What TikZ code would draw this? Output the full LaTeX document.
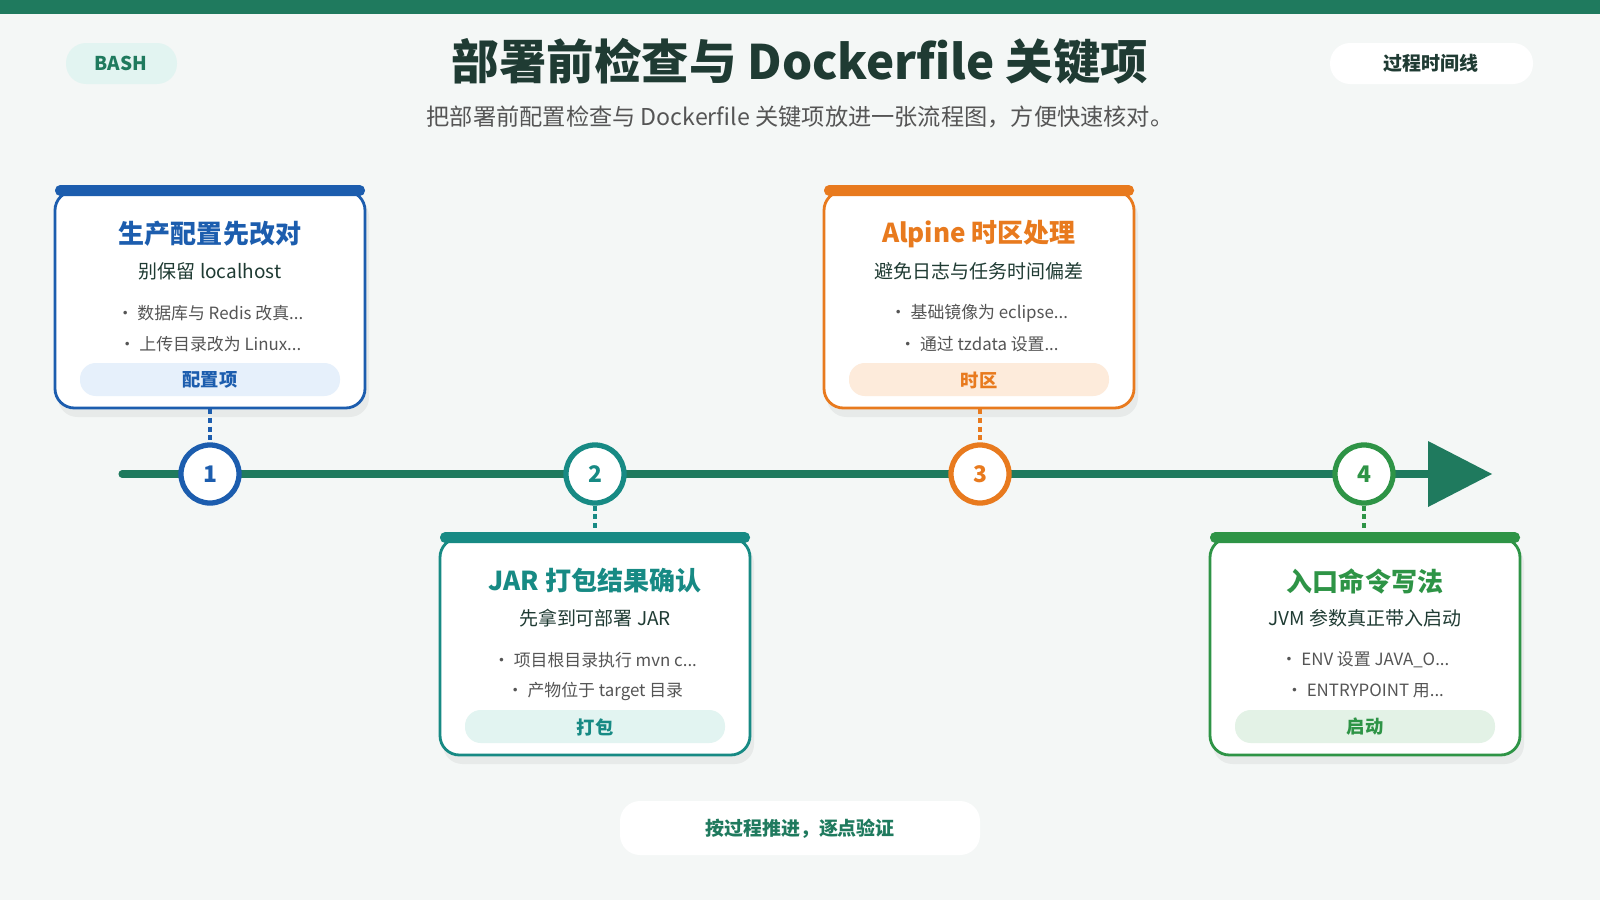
\documentclass[tikz,border=0pt]{standalone}
\usepackage{fontspec}
\setmainfont{Noto Sans CJK SC}
\usetikzlibrary{positioning,arrows.meta}
\definecolor{bg}{HTML}{F4F7F6}
\definecolor{topbar}{HTML}{1F7A5E}
\definecolor{ink}{HTML}{1F3B33}
\definecolor{gray1}{HTML}{555555}
\definecolor{cblue}{HTML}{1C5DAE}
\definecolor{lcblue}{HTML}{E6F0FB}
\definecolor{cteal}{HTML}{178A84}
\definecolor{lcteal}{HTML}{E2F4F1}
\definecolor{corange}{HTML}{E87A1E}
\definecolor{lcorange}{HTML}{FDEBDB}
\definecolor{cgreen}{HTML}{2E9446}
\definecolor{lcgreen}{HTML}{E3F2E6}
\tikzset{
  pill/.style={rounded corners=5.7pt, fill=#1, inner sep=0pt},
  step/.style={circle, draw=#1, line width=1.5pt, fill=white, minimum size=16.5pt,
    font=\fontsize{6.5}{8}\selectfont\bfseries, text=#1, inner sep=0pt},
  cardtitle/.style={font=\fontsize{7.4}{9}\selectfont\bfseries, text=#1},
  cardsub/.style={font=\fontsize{5.4}{7}\selectfont, text=ink},
  bullet/.style={font=\fontsize{4.8}{6}\selectfont, text=gray1},
  tag/.style={font=\fontsize{5.2}{6}\selectfont\bfseries, text=#1},
  link/.style={#1, line width=0.9pt, dash pattern=on 1.4pt off 1.1pt},
}
% card: name, left x, top y, colour, title, sub, bullet 1, bullet 2, tag
\newcommand{\stepcard}[9]{%
  \fill[black, opacity=0.05, rounded corners=5.5pt] (#2+3,#3+8) rectangle (#2+314,#3+228);
  \draw[#4, line width=0.8pt, fill=white, rounded corners=5.5pt] (#2,#3+2) rectangle (#2+310,#3+219);
  \fill[#4, rounded corners=1.5pt] (#2,#3-4) rectangle (#2+310,#3+7);
  \node[cardtitle=#4] (#1title) at (#2+155,#3+45) {#5};
  \node[cardsub] (#1sub) at (#2+155,#3+82) {#6};
  \node[bullet] (#1ba) at (#2+155,#3+124) {\textbullet\ #7};
  \node[bullet] (#1bb) at (#2+155,#3+155) {\textbullet\ #8};
  \fill[l#4, rounded corners=4.5pt] (#2+25,#3+174) rectangle (#2+285,#3+207);
  \node[tag=#4] (#1tag) at (#2+155,#3+191) {#9};
}
\begin{document}
\begin{tikzpicture}[x=0.01cm, y=-0.01cm]
  \useasboundingbox (0,0) rectangle (1600,900);
  \fill[bg] (0,0) rectangle (1600,900);
  \fill[topbar] (0,0) rectangle (1600,14);

  % header
  \fill[pill=lcteal] (66,43) rectangle (177,84);
  \node[font=\fontsize{5.4}{6}\selectfont\bfseries, text=topbar] (lang) at (121,63) {BASH};
  \fill[pill=white] (1330,43) rectangle (1533,84);
  \node[font=\fontsize{5.4}{6}\selectfont\bfseries, text=ink] (kind) at (1431,63) {过程时间线};
  \node[font=\fontsize{13.5}{15}\selectfont\bfseries, text=ink] (title) at (800,61) {部署前检查与 Dockerfile 关键项};
  \node[font=\fontsize{6.6}{7}\selectfont, text=gray1] (subtitle) at (800,117) {把部署前配置检查与 Dockerfile 关键项放进一张流程图，方便快速核对。};

  % timeline
  \coordinate (start) at (122,474);
  \coordinate (tip) at (1492,474);
  \draw[topbar, line width=2pt, line cap=round] (start) -- (1440,474);
  \fill[topbar] (1428,441) -- (tip) -- (1428,507) -- cycle;

  % cards
  \stepcard{a}{55}{189}{cblue}{生产配置先改对}{别保留 localhost}{数据库与 Redis 改真...}{上传目录改为 Linux...}{配置项}
  \stepcard{b}{440}{536}{cteal}{JAR 打包结果确认}{先拿到可部署 JAR}{项目根目录执行 mvn c...}{产物位于 target 目录}{打包}
  \stepcard{c}{824}{189}{corange}{Alpine 时区处理}{避免日志与任务时间偏差}{基础镜像为 eclipse...}{通过 tzdata 设置...}{时区}
  \stepcard{d}{1210}{536}{cgreen}{入口命令写法}{JVM 参数真正带入启动}{ENV 设置 JAVA\_O...}{ENTRYPOINT 用...}{启动}

  % steps
  \coordinate (ca) at (210,409);
  \coordinate (cb) at (595,534);
  \coordinate (cc) at (980,409);
  \coordinate (cd) at (1364,534);
  \node[step=cblue] (s1) at (210,474) {1};
  \node[step=cteal] (s2) at (595,474) {2};
  \node[step=corange] (s3) at (980,474) {3};
  \node[step=cgreen] (s4) at (1364,474) {4};
  \draw[link=cblue] (ca) -- (s1);
  \draw[link=cteal] (s2) -- (cb);
  \draw[link=corange] (cc) -- (s3);
  \draw[link=cgreen] (s4) -- (cd);

  % footer
  \fill[pill=white] (620,801) rectangle (980,855);
  \node[font=\fontsize{5.4}{6}\selectfont\bfseries, text=topbar] (foot) at (800,829) {按过程推进，逐点验证};
\end{tikzpicture}
\end{document}
